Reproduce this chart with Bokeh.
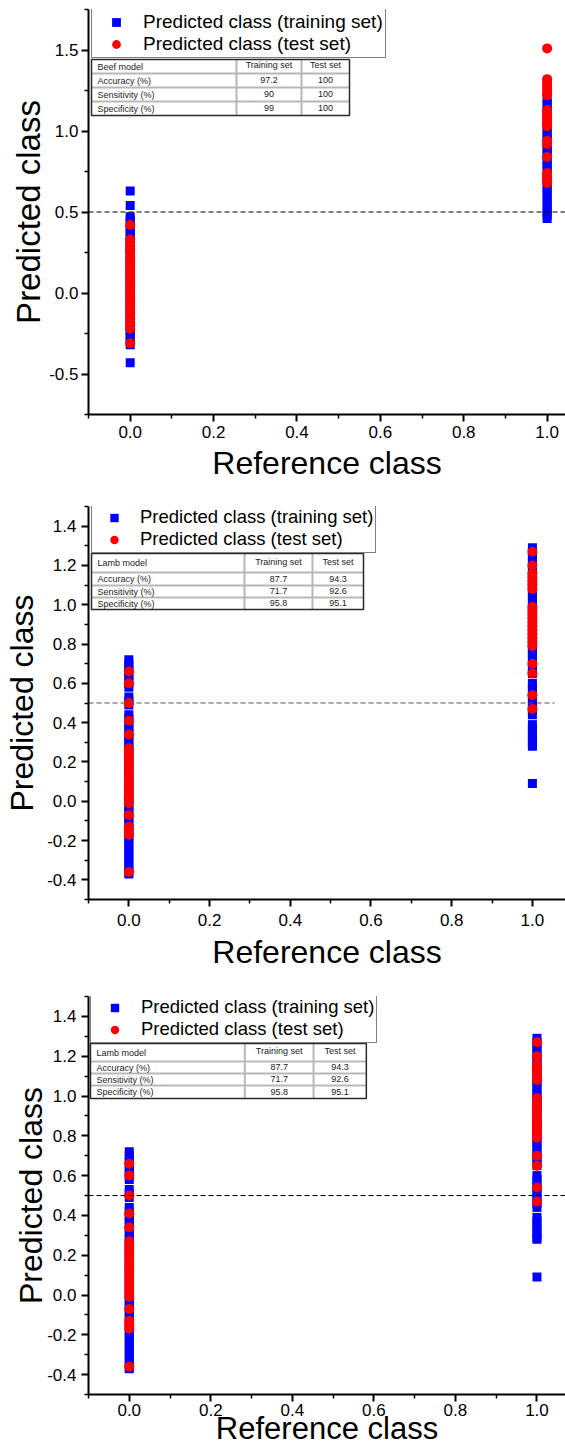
from bokeh.plotting import figure
from bokeh.layouts import column
from bokeh.models import Range1d, FixedTicker, PrintfTickFormatter, Span, Legend, LegendItem
from bokeh.core.properties import value
from bokeh.embed import file_html
from bokeh.resources import INLINE

FONT = "Liberation Sans"
W = 565

# ------------------------------------------------------------------ data
x_ticks = [0.0, 0.2, 0.4, 0.6, 0.8, 1.0]
x_minor = [-0.1, 0.1, 0.3, 0.5, 0.7, 0.9]
beef_y_ticks = [-0.5, 0.0, 0.5, 1.0, 1.5]
beef_y_minor = [-0.75, -0.25, 0.25, 0.75, 1.25, 1.75]
lamb_y_ticks = [-0.4, -0.2, 0.0, 0.2, 0.4, 0.6, 0.8, 1.0, 1.2, 1.4]
lamb_y_minor = [-0.5, -0.3, -0.1, 0.1, 0.3, 0.5, 0.7, 0.9, 1.1, 1.3, 1.5]
threshold = 0.5

series_names = ["Predicted class (training set)", "Predicted class (test set)"]

# Beef model – predicted class values, reference class 0 and 1
beef_train_ref0 = [0.63, 0.54, 0.47, 0.45, 0.43, 0.40, 0.38, 0.36, 0.33, 0.31, 0.29, 0.27,
                   0.24, 0.22, 0.20, 0.18, 0.15, 0.13, 0.11, 0.09, 0.06, 0.04, 0.02, 0.00,
                   -0.03, -0.05, -0.07, -0.09, -0.12, -0.14, -0.16, -0.18, -0.21, -0.23,
                   -0.25, -0.27, -0.30, -0.32, -0.43]
beef_train_ref1 = [1.20, 1.17, 1.15, 1.12, 1.10, 1.07, 1.05, 1.02, 0.99, 0.97, 0.95, 0.92,
                   0.89, 0.87, 0.85, 0.82, 0.80, 0.78, 0.75, 0.72, 0.70, 0.67, 0.65, 0.62,
                   0.60, 0.57, 0.55, 0.52, 0.50, 0.48, 0.46]
beef_test_ref0 = [0.42, 0.33, 0.31, 0.29, 0.27, 0.25, 0.22, 0.20, 0.18, 0.16, 0.14, 0.12,
                  0.10, 0.08, 0.06, 0.04, 0.02, 0.00, -0.02, -0.04, -0.06, -0.08, -0.10,
                  -0.12, -0.14, -0.16, -0.18, -0.20, -0.22, -0.31]
beef_test_ref1 = [1.51, 1.32, 1.30, 1.28, 1.26, 1.24, 1.22, 1.13, 1.11, 1.09, 1.07, 1.05,
                  1.03, 0.94, 0.92, 0.84, 0.74, 0.72, 0.70, 0.68]

# Lamb model
lamb_train_ref0 = [0.72, 0.70, 0.68, 0.66, 0.64, 0.62, 0.60, 0.58, 0.53, 0.51, 0.49, 0.44,
                   0.42, 0.40, 0.38, 0.36, 0.34, 0.32, 0.30, 0.28, 0.26, 0.24, 0.22, 0.20,
                   0.18, 0.16, 0.14, 0.12, 0.10, 0.08, 0.06, 0.04, 0.02, 0.00, -0.02, -0.04,
                   -0.06, -0.08, -0.10, -0.12, -0.14, -0.16, -0.18, -0.20, -0.22, -0.24,
                   -0.26, -0.28, -0.30, -0.32, -0.34, -0.36, -0.37]
lamb_train_ref1 = [1.29, 1.27, 1.25, 1.23, 1.21, 1.19, 1.17, 1.15, 1.13, 1.11, 1.09, 1.07,
                   1.05, 1.03, 1.01, 0.99, 0.97, 0.95, 0.93, 0.91, 0.89, 0.87, 0.85, 0.83,
                   0.81, 0.79, 0.77, 0.75, 0.73, 0.71, 0.69, 0.67, 0.65, 0.60, 0.58, 0.56,
                   0.54, 0.52, 0.50, 0.48, 0.46, 0.44, 0.39, 0.37, 0.35, 0.33, 0.31, 0.29,
                   0.28, 0.09]
lamb_test_ref0 = [0.66, 0.60, 0.50, 0.41, 0.34, 0.27, 0.25, 0.23, 0.21, 0.19, 0.17, 0.15,
                  0.13, 0.11, 0.09, 0.07, 0.05, 0.03, 0.01, -0.01, -0.07, -0.13, -0.15,
                  -0.17, -0.36]
lamb_test_ref1 = [1.27, 1.20, 1.16, 1.14, 1.12, 1.10, 1.08, 0.99, 0.97, 0.95, 0.93, 0.91,
                  0.89, 0.87, 0.85, 0.83, 0.81, 0.79, 0.70, 0.65, 0.54, 0.47]

# Tables
table_columns = ["Training set", "Test set"]
table_metrics = ["Accuracy (%)", "Sensitivity (%)", "Specificity (%)"]
beef_table_name = "Beef model"
beef_training_vals = ["97.2", "90", "99"]
beef_test_vals = ["100", "100", "100"]
lamb_table_name = "Lamb model"
lamb_training_vals = ["87.7", "71.7", "95.8"]
lamb_test_vals = ["94.3", "92.6", "95.1"]

# ------------------------------------------------------------------ layout / style
panels = [
    dict(H=490, left=88, top=9, bottom=76, x0=-0.1, x1=1.044, y0=-0.75, y1=1.75,
         yt=beef_y_ticks, ym=beef_y_minor,
         train=(beef_train_ref0, beef_train_ref1), test=(beef_test_ref0, beef_test_ref1),
         tname=beef_table_name, ttrain=beef_training_vals, ttest=beef_test_vals,
         ylab_size="33px", ylab_standoff=-1, ytick_standoff=3,
         xlab_size="32px", xlab_standoff=4, xtick_standoff=4,
         leg=dict(vx=3, vy=356, gw=44, gh=22, standoff=5, fs="19px"),
         tcols=(91, 236, 301, 349), trows=(59, 73, 87, 101, 115),
         dash_end=None, dash_color="black"),
    dict(H=485, left=88, top=16, bottom=76, x0=-0.1, x1=1.082, y0=-0.5, y1=1.5,
         yt=lamb_y_ticks, ym=lamb_y_minor,
         train=(lamb_train_ref0, lamb_train_ref1), test=(lamb_test_ref0, lamb_test_ref1),
         tname=lamb_table_name, ttrain=lamb_training_vals, ttest=lamb_test_vals,
         ylab_size="32px", ylab_standoff=4, ytick_standoff=5,
         xlab_size="32px", xlab_standoff=5, xtick_standoff=7,
         leg=dict(vx=3, vy=346, gw=40, gh=21, standoff=6, fs="18.5px"),
         tcols=(91, 244, 312, 363), trows=(63, 82, 95, 107, 119),
         dash_end=1.055, dash_color="#555555"),
    dict(H=474, left=86, top=21, bottom=55, x0=-0.1, x1=1.070, y0=-0.5, y1=1.5,
         yt=lamb_y_ticks, ym=lamb_y_minor,
         train=(lamb_train_ref0, lamb_train_ref1), test=(lamb_test_ref0, lamb_test_ref1),
         tname=lamb_table_name, ttrain=lamb_training_vals, ttest=lamb_test_vals,
         ylab_size="32px", ylab_standoff=-5, ytick_standoff=5,
         xlab_size="31px", xlab_standoff=-8, xtick_standoff=2,
         leg=dict(vx=2, vy=351, gw=43, gh=21, standoff=5, fs="18.5px"),
         tcols=(88, 243, 312, 365), trows=(68, 86, 98, 110, 123),
         dash_end=None, dash_color="black"),
]


def xd(c, px):
    return c["x0"] + (px - c["left"]) * (c["x1"] - c["x0"]) / (W - c["left"])


def yd(c, py):
    fh = c["H"] - c["top"] - c["bottom"]
    return c["y1"] - (py - c["top"]) * (c["y1"] - c["y0"]) / fh


def style_axis(ax, ticks, minor, label_size, label_standoff, tick_standoff):
    ax.ticker = FixedTicker(ticks=ticks, minor_ticks=minor)
    ax.formatter = PrintfTickFormatter(format="%.1f")
    ax.axis_line_width = 2
    ax.axis_line_color = "black"
    ax.major_tick_line_width = 2
    ax.major_tick_line_color = "black"
    ax.minor_tick_line_width = 1.5
    ax.minor_tick_line_color = "black"
    ax.major_tick_out = 7
    ax.major_tick_in = 0
    ax.minor_tick_out = 4
    ax.minor_tick_in = 0
    ax.major_label_text_font = FONT
    ax.major_label_text_font_size = "17px"
    ax.major_label_text_color = "black"
    ax.major_label_standoff = tick_standoff
    ax.axis_label_text_font = FONT
    ax.axis_label_text_font_style = "normal"
    ax.axis_label_text_font_size = label_size
    ax.axis_label_text_color = "black"
    ax.axis_label_standoff = label_standoff


def make_panel(c):
    p = figure(width=W, height=c["H"], output_backend="svg", toolbar_location=None,
               x_range=Range1d(c["x0"], c["x1"]), y_range=Range1d(c["y0"], c["y1"]),
               min_border_left=c["left"], min_border_right=0,
               min_border_top=c["top"], min_border_bottom=c["bottom"],
               x_axis_label="Reference class", y_axis_label="Predicted class")
    p.outline_line_color = None
    p.grid.visible = False
    p.background_fill_color = "white"
    p.border_fill_color = "white"
    style_axis(p.xaxis[0], x_ticks, x_minor, c["xlab_size"], c["xlab_standoff"], c["xtick_standoff"])
    style_axis(p.yaxis[0], c["yt"], c["ym"], c["ylab_size"], c["ylab_standoff"], c["ytick_standoff"])

    tr0, tr1 = c["train"]
    te0, te1 = c["test"]
    r_train = p.scatter([0.0] * len(tr0) + [1.0] * len(tr1), tr0 + tr1, marker="square",
                        size=9, fill_color="#0000FF", line_color="#0000FF", line_width=0)
    r_test = p.scatter([0.0] * len(te0) + [1.0] * len(te1), te0 + te1, marker="circle",
                       size=10, fill_color="#FF0000", line_color="#FF0000", line_width=0)

    # threshold line
    if c["dash_end"] is None:
        p.add_layout(Span(location=threshold, dimension="width", line_color=c["dash_color"],
                          line_width=1.2, line_dash="5 3"))
    else:
        p.line([c["x0"], c["dash_end"]], [threshold, threshold], line_color=c["dash_color"],
               line_width=1.2, line_dash="5 3")

    # table (annotation drawn in data space)
    L, C1, C2, R = c["tcols"]
    rows = c["trows"]
    p.quad(left=[xd(c, L)], right=[xd(c, R)], top=[yd(c, rows[0])], bottom=[yd(c, rows[-1])],
           fill_color="white", line_color=None)
    sx0, sy0, sx1, sy1 = [], [], [], []
    for r in rows[1:-1]:
        sx0.append(xd(c, L)); sx1.append(xd(c, R)); sy0.append(yd(c, r)); sy1.append(yd(c, r))
    for cc in (C1, C2):
        sx0.append(xd(c, cc)); sx1.append(xd(c, cc)); sy0.append(yd(c, rows[0])); sy1.append(yd(c, rows[-1]))
    p.segment(sx0, sy0, sx1, sy1, line_color="#b8b8b8", line_width=2)
    p.quad(left=[xd(c, L)], right=[xd(c, R)], top=[yd(c, rows[0])], bottom=[yd(c, rows[-1])],
           fill_color=None, line_color="#2a2a2a", line_width=1.5)

    tx_left, ty_left, tt_left = [], [], []
    tx_c, ty_c, tt_c = [], [], []
    hy = (rows[0] + rows[1]) / 2
    tx_left.append(xd(c, L + 6)); ty_left.append(yd(c, hy)); tt_left.append(c["tname"])
    tx_c += [xd(c, (C1 + C2) / 2), xd(c, (C2 + R) / 2)]
    ty_c += [yd(c, hy - 1.5), yd(c, hy - 1.5)]
    tt_c += table_columns
    for i, m in enumerate(table_metrics):
        cy = (rows[i + 1] + rows[i + 2]) / 2
        tx_left.append(xd(c, L + 6)); ty_left.append(yd(c, cy)); tt_left.append(m)
        tx_c += [xd(c, (C1 + C2) / 2), xd(c, (C2 + R) / 2)]
        ty_c += [yd(c, cy - 0.5), yd(c, cy - 0.5)]
        tt_c += [c["ttrain"][i], c["ttest"][i]]
    p.text(tx_left, ty_left, text=tt_left, text_font=value(FONT), text_font_size="9px",
           text_align="left", text_baseline="middle", text_color="#222222")
    p.text(tx_c, ty_c, text=tt_c, text_font=value(FONT), text_font_size="9px",
           text_align="center", text_baseline="middle", text_color="#222222")

    lg = c["leg"]
    legend = Legend(items=[LegendItem(label=series_names[0], renderers=[r_train]),
                           LegendItem(label=series_names[1], renderers=[r_test])],
                    location=(lg["vx"], lg["vy"]), margin=0, padding=2, spacing=0,
                    glyph_width=lg["gw"], glyph_height=lg["gh"], label_height=lg["gh"],
                    label_standoff=lg["standoff"], label_text_font=FONT,
                    label_text_font_size=lg["fs"], label_text_color="black",
                    border_line_color="black", border_line_width=1.5,
                    background_fill_color="white", background_fill_alpha=1.0)
    p.add_layout(legend)
    return p


figs = [make_panel(c) for c in panels]
layout = column(*figs, spacing=0)
open("out.html", "w").write(file_html(layout, INLINE))
